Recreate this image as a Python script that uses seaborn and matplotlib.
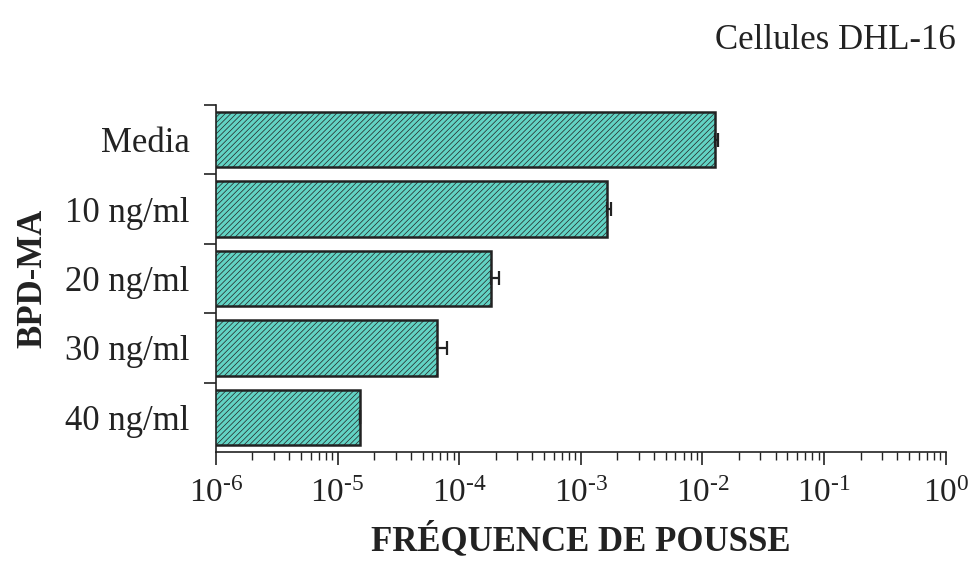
import numpy as np
import pandas as pd
import matplotlib
matplotlib.use("Agg")
import matplotlib.pyplot as plt
import seaborn as sns
from matplotlib.ticker import LogLocator, FixedLocator, NullFormatter, FuncFormatter

# Data
categories = ["Media", "10 ng/ml", "20 ng/ml", "30 ng/ml", "40 ng/ml"]
frequency = [0.0126, 0.00164, 0.000181, 0.000066, 0.0000152]
error_plus = [0.0009, 0.00013, 0.00003, 0.000014, 0.0]
x_ticks = [1e-6, 1e-5, 1e-4, 1e-3, 1e-2, 1e-1, 1e0]
x_tick_labels = ["-6", "-5", "-4", "-3", "-2", "-1", "0"]

sns.set_theme(style="ticks")
plt.rcParams["font.family"] = ["Liberation Serif", "DejaVu Serif"]
plt.rcParams["mathtext.fontset"] = "custom"
plt.rcParams["mathtext.rm"] = "Liberation Serif"
plt.rcParams["axes.unicode_minus"] = False
plt.rcParams["hatch.color"] = "#6f8583"
plt.rcParams["hatch.linewidth"] = 0.5

df = pd.DataFrame({"cat": categories, "freq": frequency})

fig = plt.figure(figsize=(9.68, 5.69), dpi=100)
ax = fig.add_axes([0.223, 0.2056, 0.754, 0.61])
ax.set_xscale("log")
sns.barplot(data=df, x="freq", y="cat", orient="h", ax=ax, color="#62d3c4",
            width=0.8, edgecolor="#222222", linewidth=1.8, errorbar=None,
            saturation=1)
for p in ax.patches:
    p.set_hatch("//////")
    if hasattr(p, "set_hatchcolor"):
        p.set_hatchcolor("#6f8583")

ypos = np.arange(len(categories))
ax.errorbar(frequency, ypos, xerr=[np.zeros(len(error_plus)), error_plus],
            fmt="none", ecolor="#222222", elinewidth=1.6, capsize=5, capthick=1.6)

ax.set_xlim(1e-6, 1)
ax.set_ylim(4.5, -0.5)


def fmt(v, pos):
    for t, lab in zip(x_ticks, x_tick_labels):
        if abs(np.log10(v) - np.log10(t)) < 1e-6:
            return r"$\mathregular{10^{\text{%s}}}$" % lab
    return ""


ax.xaxis.set_major_locator(FixedLocator(x_ticks))
ax.xaxis.set_major_formatter(FuncFormatter(fmt))
ax.xaxis.set_minor_locator(LogLocator(base=10, subs=np.arange(2, 10), numticks=100))
ax.xaxis.set_minor_formatter(NullFormatter())
ax.tick_params(axis="x", which="major", length=9, width=1.2, direction="out",
               labelsize=24, pad=10, colors="#222222")
ax.tick_params(axis="x", which="minor", length=6, width=1.0, direction="out",
               colors="#222222")

ax.set_yticks(ypos)
ax.set_yticklabels(categories)
ax.yaxis.set_minor_locator(FixedLocator([-0.5, 0.5, 1.5, 2.5, 3.5]))
ax.tick_params(axis="y", which="major", length=0, labelsize=25, pad=19,
               labelcolor="#222222")
ax.tick_params(axis="y", which="minor", length=9, width=1.2, direction="out",
               colors="#222222")

for s in ["top", "right"]:
    ax.spines[s].set_visible(False)
for s in ["left", "bottom"]:
    ax.spines[s].set_color("#222222")
    ax.spines[s].set_linewidth(1.2)

ax.set_xlabel("FRÉQUENCE DE POUSSE", fontsize=25, fontweight="bold",
              color="#222222", labelpad=10)
ax.set_ylabel("BPD-MA", fontsize=25, fontweight="bold", color="#222222",
              labelpad=11)

fig.text(0.987, 0.928, "Cellules DHL-16", ha="right", va="center",
         fontsize=25, color="#222222")

fig.savefig("out.png", dpi=100, facecolor="white")
